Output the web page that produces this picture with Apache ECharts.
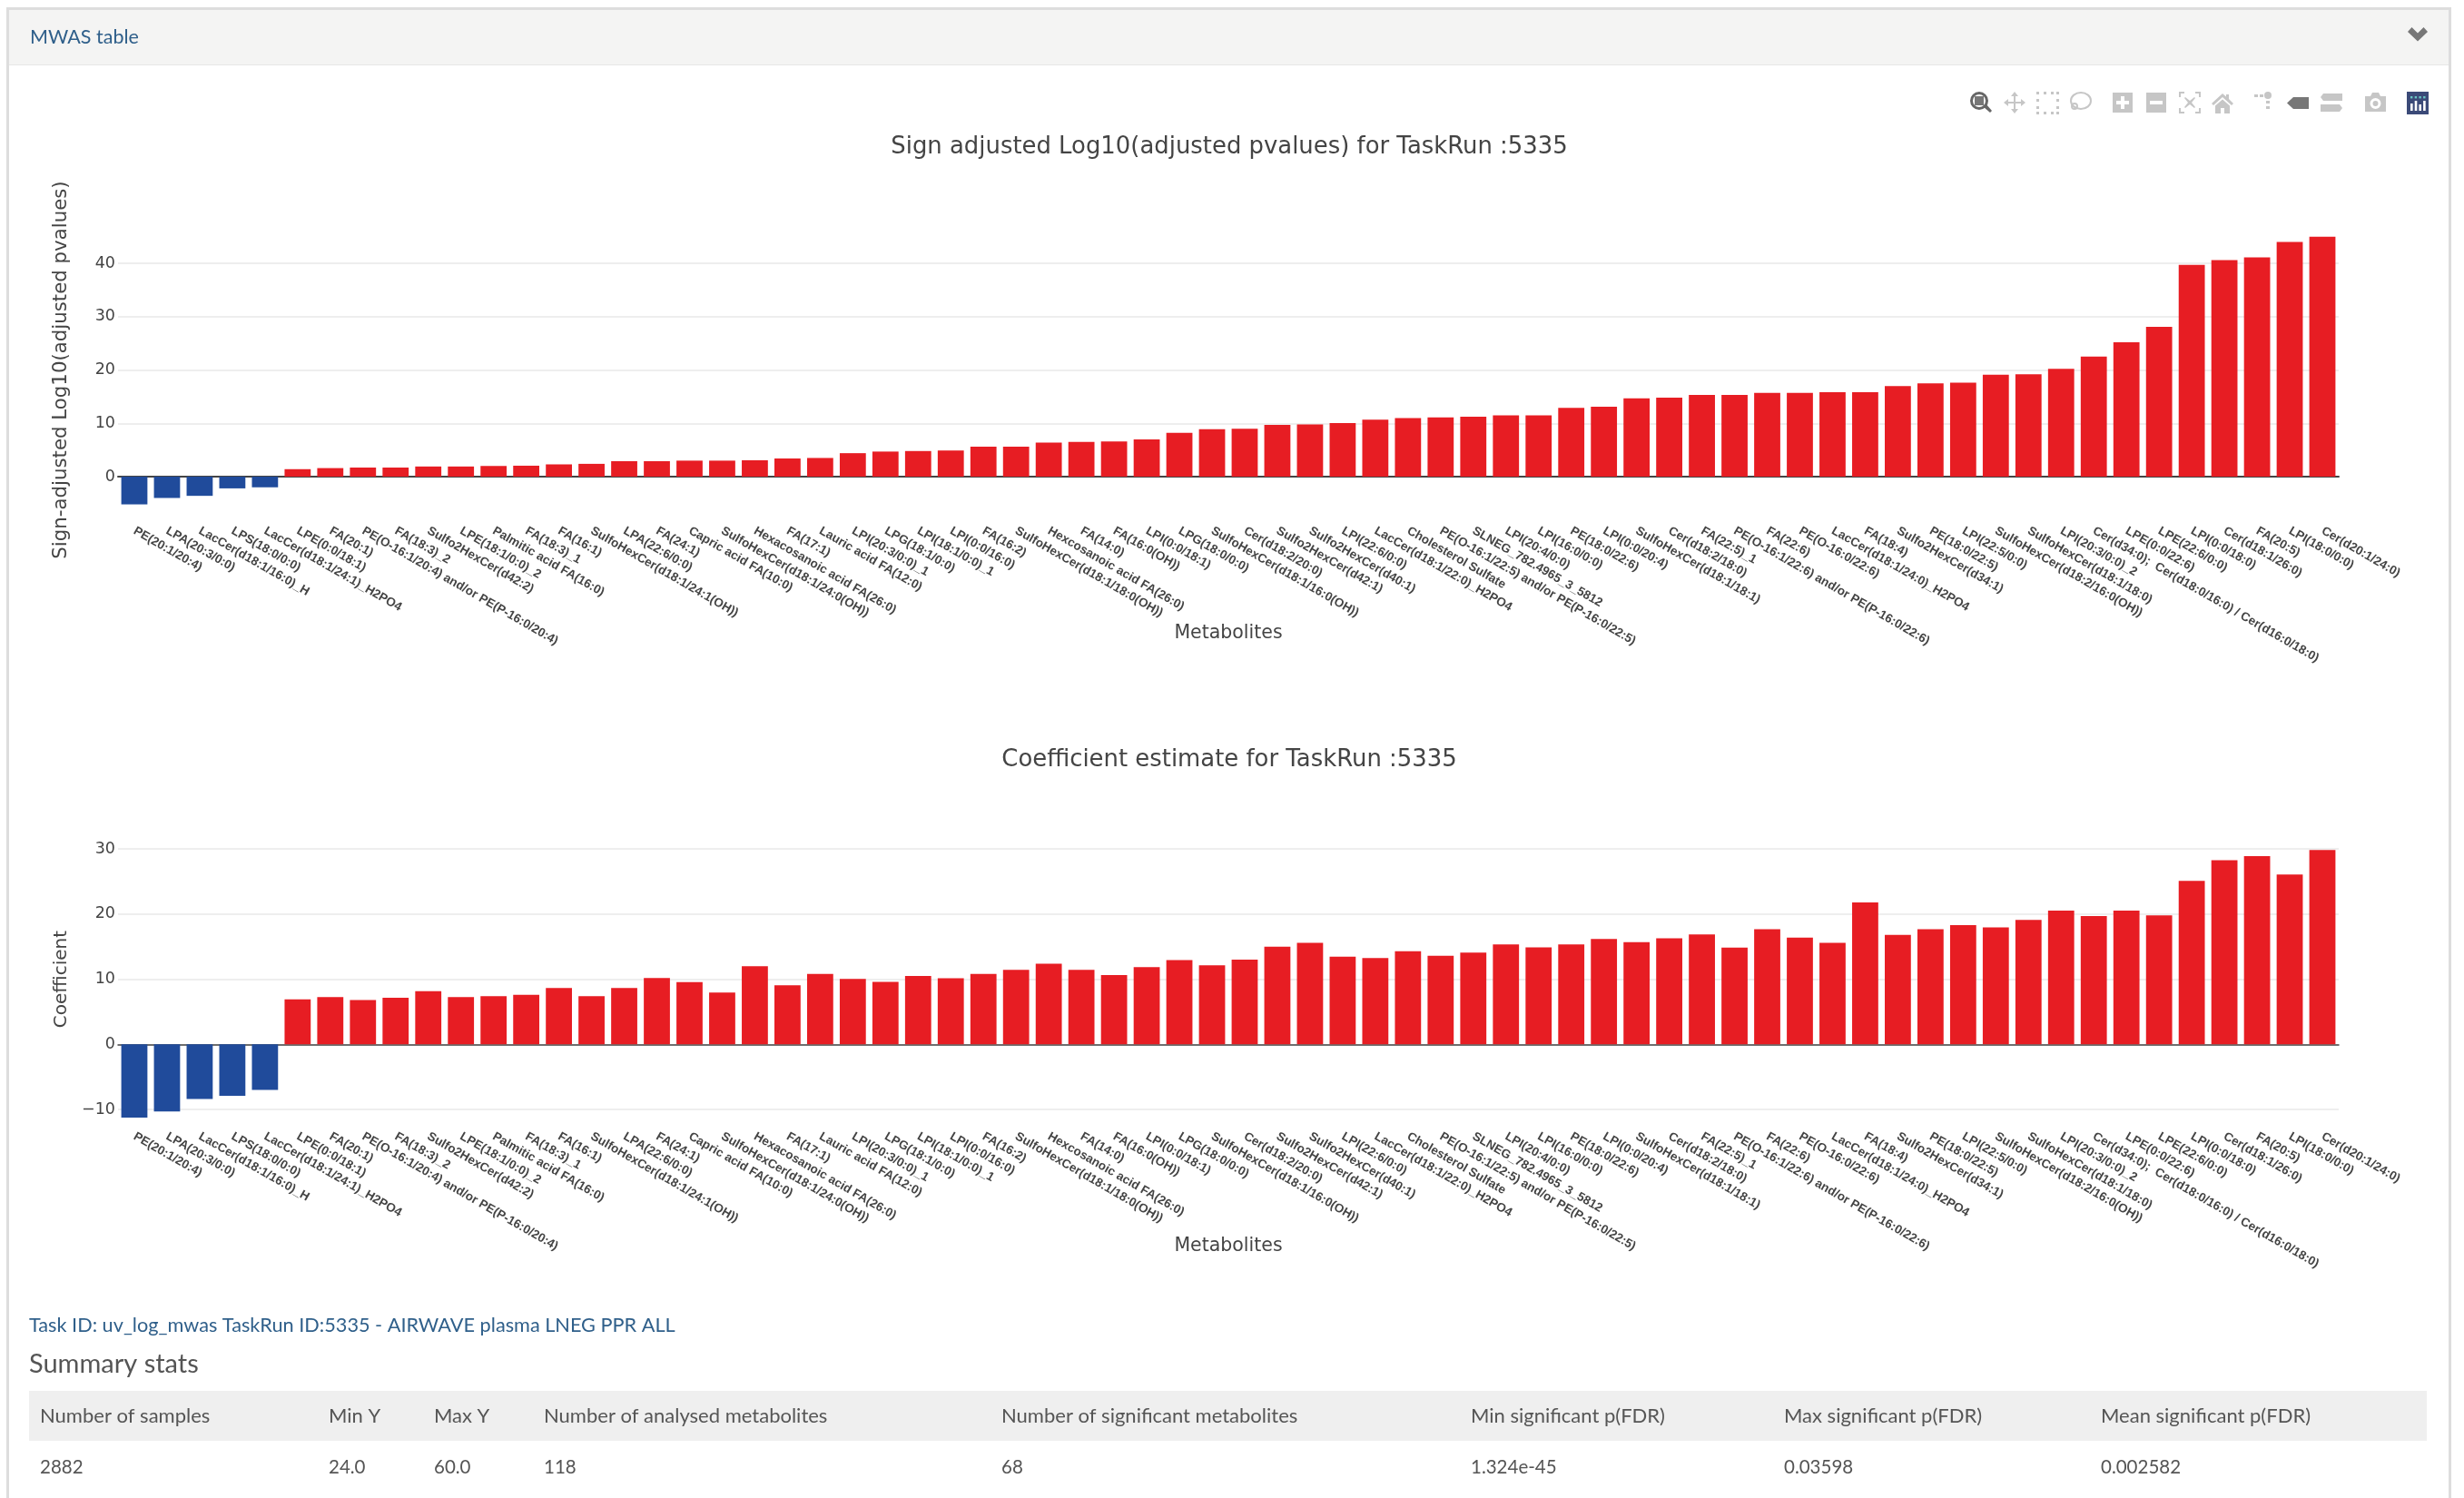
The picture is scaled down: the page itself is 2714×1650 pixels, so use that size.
<!DOCTYPE html>
<html><head><meta charset="utf-8">
<style>html,body{margin:0;padding:0;background:#fff}#c{width:2714px;height:1650px}</style>
<script src="https://cdn.jsdelivr.net/npm/echarts@6/dist/echarts.min.js"></script>
</head><body><div id="c"></div>
<script>
const categories = ["PE(20:1/20:4)","LPA(20:3/0:0)","LacCer(d18:1/16:0)_H","LPS(18:0/0:0)","LacCer(d18:1/24:1)_H2PO4","LPE(0:0/18:1)","FA(20:1)","PE(O-16:1/20:4) and/or PE(P-16:0/20:4)","FA(18:3)_2","Sulfo2HexCer(d42:2)","LPE(18:1/0:0)_2","Palmitic acid FA(16:0)","FA(18:3)_1","FA(16:1)","SulfoHexCer(d18:1/24:1(OH))","LPA(22:6/0:0)","FA(24:1)","Capric acid FA(10:0)","SulfoHexCer(d18:1/24:0(OH))","Hexacosanoic acid FA(26:0)","FA(17:1)","Lauric acid FA(12:0)","LPI(20:3/0:0)_1","LPG(18:1/0:0)","LPI(18:1/0:0)_1","LPI(0:0/16:0)","FA(16:2)","SulfoHexCer(d18:1/18:0(OH))","Hexcosanoic acid FA(26:0)","FA(14:0)","FA(16:0(OH))","LPI(0:0/18:1)","LPG(18:0/0:0)","SulfoHexCer(d18:1/16:0(OH))","Cer(d18:2/20:0)","Sulfo2HexCer(d42:1)","Sulfo2HexCer(d40:1)","LPI(22:6/0:0)","LacCer(d18:1/22:0)_H2PO4","Cholesterol Sulfate","PE(O-16:1/22:5) and/or PE(P-16:0/22:5)","SLNEG_782.4965_3_5812","LPI(20:4/0:0)","LPI(16:0/0:0)","PE(18:0/22:6)","LPI(0:0/20:4)","SulfoHexCer(d18:1/18:1)","Cer(d18:2/18:0)","FA(22:5)_1","PE(O-16:1/22:6) and/or PE(P-16:0/22:6)","FA(22:6)","PE(O-16:0/22:6)","LacCer(d18:1/24:0)_H2PO4","FA(18:4)","Sulfo2HexCer(d34:1)","PE(18:0/22:5)","LPI(22:5/0:0)","SulfoHexCer(d18:2/16:0(OH))","SulfoHexCer(d18:1/18:0)","LPI(20:3/0:0)_2","Cer(d34:0);  Cer(d18:0/16:0) / Cer(d16:0/18:0)","LPE(0:0/22:6)","LPE(22:6/0:0)","LPI(0:0/18:0)","Cer(d18:1/26:0)","FA(20:5)","LPI(18:0/0:0)","Cer(d20:1/24:0)"];
const logPValues = [-5.2,-4.0,-3.6,-2.2,-2.0,1.4,1.6,1.7,1.7,1.9,1.9,2.0,2.05,2.3,2.4,2.9,2.9,3.0,3.0,3.07,3.4,3.5,4.4,4.7,4.8,4.9,5.6,5.6,6.4,6.5,6.6,7.0,8.2,8.9,9.0,9.7,9.8,10.05,10.7,11.0,11.1,11.25,11.5,11.5,12.9,13.1,14.7,14.8,15.3,15.3,15.7,15.7,15.85,15.85,17.0,17.5,17.6,19.1,19.2,20.2,22.5,25.2,28.1,39.7,40.6,41.1,44.0,45.0];
const coefficients = [-11.25,-10.3,-8.4,-7.9,-7.0,6.9,7.25,6.8,7.15,8.15,7.25,7.4,7.6,8.65,7.4,8.65,10.2,9.55,7.95,12.0,9.07,10.8,10.05,9.6,10.5,10.15,10.8,11.45,12.4,11.45,10.65,11.85,12.95,12.15,13.0,15.0,15.6,13.45,13.25,14.3,13.6,14.1,15.35,14.9,15.35,16.2,15.7,16.3,16.9,14.85,17.7,16.4,15.6,21.8,16.8,17.7,18.3,17.95,19.1,20.55,19.7,20.55,19.8,25.1,28.3,28.9,26.1,29.85];
const tableHeaders = ["Number of samples","Min Y","Max Y","Number of analysed metabolites","Number of significant metabolites","Min significant p(FDR)","Max significant p(FDR)","Mean significant p(FDR)"];
const tableRow = ["2882","24.0","60.0","118","68","1.324e-45","0.03598","0.002582"];
const titles = ["Sign adjusted Log10(adjusted pvalues) for TaskRun :5335","Coefficient estimate for TaskRun :5335"];
const panelTitle = "MWAS table";
const taskLine = "Task ID: uv_log_mwas TaskRun ID:5335 - AIRWAVE plasma LNEG PPR ALL";
const summaryTitle = "Summary stats";

const RED='#e71d23', BLUE='#204b9b', TXT='#444', PLOT='"DejaVu Sans"', UI='Lato', TICK='"Liberation Sans"';
const colX=[44,362,478,599,1103,1620,1965,2314];
const G=[];
const rect=(x,y,w,h,fill,z=1)=>G.push({type:'rect',shape:{x,y,width:w,height:h},style:{fill},z,silent:true});
const text=(x,y,t,fs,fill,font=UI,weight=400)=>G.push({type:'text',x,y,style:{text:t,fontSize:fs,fill,fontFamily:font,fontWeight:weight,verticalAlign:'middle',textVerticalAlign:'middle'},z:5,silent:true});
const poly=(pts,cx,cy,fill,z=5)=>G.push({type:'polygon',shape:{points:pts.map(p=>[p[0]+cx-12,p[1]+cy-12])},style:{fill},z,silent:true});

// panel frame
rect(7,8,2693,1642,'#dddddd',0);
rect(10,11,2687,1639,'#ffffff',0);
rect(10,11,2687,60,'#f4f4f3',1);
rect(10,71,2687,1,'#e6e6e6',1);
text(33,41,panelTitle,21.5,'#2f5f8a');
poly([[1,8],[5.5,3],[12,9.5],[18.5,3],[23,8],[12,18.5]],2663,39,'#777');

// toolbar
const iy=113, grey='#c6c6c6';
G.push({type:'ring',shape:{cx:2180,cy:iy-2,r:10,r0:7},style:{fill:'#666'},z:5,silent:true});
rect(2175,iy-7,10,10,'#777',5);
poly([[15,17],[18,14],[24,21],[22,23]],2182,iy,'#666');
poly([[12,0],[16,5],[13,5],[13,11],[19,11],[19,8],[24,12],[19,16],[19,13],[13,13],[13,19],[16,19],[12,24],[8,19],[11,19],[11,13],[5,13],[5,16],[0,12],[5,8],[5,11],[11,11],[11,5],[8,5]],2219,iy,grey);
for(const [a,b] of [[0,0],[8,0],[16,0],[22,0],[0,8],[22,8],[0,16],[22,16],[0,22],[8,22],[16,22],[22,22]]) rect(2243+a,iy-12+b,3,3,grey,5);
G.push({type:'ellipse',shape:{cx:2292,cy:iy-2,rx:11,ry:9},style:{fill:'none',stroke:grey,lineWidth:2},z:5,silent:true});
G.push({type:'circle',shape:{cx:2285,cy:iy+4,r:3},style:{fill:'none',stroke:grey,lineWidth:2},z:5,silent:true});
rect(2327,iy-11,22,22,grey,5);rect(2336,iy-7,4,14,'#fff',6);rect(2331,iy-2,14,4,'#fff',6);
rect(2364,iy-11,22,22,grey,5);rect(2368,iy-2,14,4,'#fff',6);
poly([[0,0],[6,0],[6,2],[2,2],[2,6],[0,6]],2412,iy,grey);
poly([[18,0],[24,0],[24,6],[22,6],[22,2],[18,2]],2412,iy,grey);
poly([[0,24],[0,18],[2,18],[2,22],[6,22],[6,24]],2412,iy,grey);
poly([[24,24],[18,24],[18,22],[22,22],[22,18],[24,18]],2412,iy,grey);
poly([[7,6],[12,10],[17,6],[18,7],[14,12],[18,17],[17,18],[12,14],[7,18],[6,17],[10,12],[6,7]],2412,iy,grey);
poly([[12,2],[16,5.5],[16,3],[19,3],[19,8],[24,13],[22,15],[12,6],[2,15],[0,13]],2448,iy,grey);
poly([[4,15.5],[12,8.5],[20,15.5],[20,24],[14,24],[14,18],[10,18],[10,24],[4,24]],2448,iy,grey);
rect(2483,iy-9,4,3,grey,5);rect(2489,iy-9,4,3,grey,5);
G.push({type:'circle',shape:{cx:2498,cy:iy-8,r:4},style:{fill:grey},z:5,silent:true});
rect(2496,iy-2,4,3,grey,5);rect(2496,iy+4,4,3,grey,5);
poly([[7,6],[24,6],[24,19],[7,19],[0,12.5]],2531,iy,'#777');
poly([[3,2],[24,2],[24,10],[3,10],[0,6]],2568,iy,grey);
poly([[0,14],[21,14],[24,18],[21,22],[0,22]],2568,iy,grey);
poly([[1,5],[7,5],[9,1],[16,1],[18,5],[24,5],[24,22],[1,22]],2616,iy,grey);
G.push({type:'ring',shape:{cx:2616.5,cy:iy+1,r:6,r0:3},style:{fill:'#fff'},z:6,silent:true});
rect(2651,iy-12,24,25,'#3b4a78',5);
for(let i=0;i<4;i++){rect(2655+i*4.7,iy-7,2.4,2.4,'#69c6c4',6);rect(2655+i*4.7,iy-2+[3,0,4,0][i],2.6,11-[3,0,4,0][i],'#fff',6);}

// footer
text(32,1460,taskLine,21.7,'#2f5f8a');
text(32,1503,summaryTitle,29,'#555');
rect(32,1532,2641,55,'#efefef',1);
tableHeaders.forEach((h,i)=>text(colX[i],1560,h,22,'#555'));
tableRow.forEach((h,i)=>text(colX[i],1616,h,20.5,'#555'));

const gridBase={left:130,right:138,containLabel:false};
const xAxis=(gi,margin,gap,lw)=>({type:'category',gridIndex:gi,data:categories,
  axisLine:{onZero:true,lineStyle:{color:'#444',width:lw}},axisTick:{show:false},
  axisLabel:{interval:0,rotate:-30,margin,fontFamily:TICK,fontSize:13.5,fontWeight:'bold',color:'#444',hideOverlap:false},
  name:'Metabolites',nameLocation:'middle',nameGap:gap,nameMoveOverlap:false,nameTextStyle:{fontFamily:PLOT,fontSize:20.5,color:TXT}});
const yAxis=(gi,min,max,name,gap,fs)=>({type:'value',gridIndex:gi,min,max,interval:10,
  axisLine:{show:false},axisTick:{show:false},
  splitLine:{show:true,showMinLine:false,showMaxLine:false,lineStyle:{color:'#eeeeee',width:2}},
  axisLabel:{margin:3,showMinLabel:false,showMaxLabel:false,fontFamily:PLOT,fontSize:17.5,color:TXT,formatter:v=>String(v).replace('-','\u2212')},
  name,nameLocation:'middle',nameGap:gap,nameMoveOverlap:false,nameTextStyle:{fontFamily:PLOT,fontSize:fs,color:TXT}});
const bar=(gi,data)=>({type:'bar',xAxisIndex:gi,yAxisIndex:gi,data,barCategoryGap:'20%',silent:true,animation:false,
  itemStyle:{color:p=>p.value<0?BLUE:RED}});

const chart=echarts.init(document.getElementById('c'),null,{renderer:'canvas',width:2714,height:1650});
chart.setOption({
  animation:false,backgroundColor:'#fff',
  title:titles.map((t,i)=>({text:t,left:1349,top:[157,832][i],textAlign:'center',textVerticalAlign:'middle',textStyle:{fontFamily:PLOT,fontSize:25.9,fontWeight:'normal',color:TXT}})),
  grid:[Object.assign({top:231.25,height:352.5},gridBase),Object.assign({top:863.5,height:430.2},gridBase)],
  xAxis:[xAxis(0,0,103,2),xAxis(1,-43,68,1.5)],
  yAxis:[yAxis(0,-10,50,'Sign-adjusted Log10(adjusted pvalues)',52,21.3),yAxis(1,-20,40,'Coefficient',52,20)],
  series:[bar(0,logPValues),bar(1,coefficients)],
  graphic:{elements:G}
});
</script></body></html>
